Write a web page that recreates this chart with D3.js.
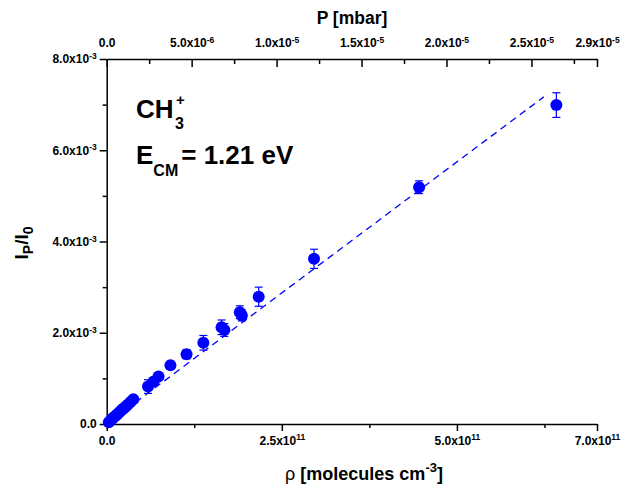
<!DOCTYPE html>
<html>
<head>
<meta charset="utf-8">
<script src="https://cdn.jsdelivr.net/npm/d3@7/dist/d3.min.js"></script>
<style>
  html, body { margin: 0; padding: 0; background: #fff; }
  svg { display: block; font-family: "Liberation Sans", Arial, sans-serif; }
</style>
</head>
<body>
<svg id="chart" width="623" height="490"></svg>
<script>
// Number density of the neutral gas (molecules cm^-3)
const rhoValues = [3e9, 6e9, 9e9, 12e9, 15e9, 18e9, 21e9, 24e9, 27e9, 30e9, 34e9, 38e9,
                   59e9, 67e9, 74e9, 91e9, 114e9, 138e9, 164e9, 168e9, 190e9, 193e9,
                   217e9, 296e9, 446e9, 642e9];
// Product-to-parent ion ratio I_P/I_0
const ratioValues = [0.04e-3, 0.08e-3, 0.13e-3, 0.17e-3, 0.21e-3, 0.26e-3, 0.30e-3, 0.34e-3,
                     0.38e-3, 0.42e-3, 0.48e-3, 0.54e-3, 0.82e-3, 0.93e-3, 1.04e-3, 1.29e-3,
                     1.53e-3, 1.78e-3, 2.12e-3, 2.06e-3, 2.45e-3, 2.38e-3, 2.79e-3, 3.62e-3,
                     5.19e-3, 6.99e-3];
const ratioErrors = [0.02e-3, 0.02e-3, 0.03e-3, 0.03e-3, 0.03e-3, 0.04e-3, 0.04e-3, 0.04e-3,
                     0.05e-3, 0.05e-3, 0.05e-3, 0.05e-3, 0.15e-3, 0.06e-3, 0.07e-3, 0.08e-3,
                     0.10e-3, 0.16e-3, 0.16e-3, 0.14e-3, 0.14e-3, 0.12e-3, 0.21e-3, 0.21e-3,
                     0.14e-3, 0.27e-3];
// Linear fit through the origin
const fitRho = [0, 6.24e11];
const fitRatio = [0, 7.17e-3];

// Axis ticks
const xTicks = [0, 2.5e11, 5.0e11, 7.0e11];
const xMinorTicks = [1.25e11, 3.75e11, 6.25e11];
const yTicks = [0, 2e-3, 4e-3, 6e-3, 8e-3];
const yMinorTicks = [1e-3, 3e-3, 5e-3, 7e-3];
const pTicks = [0, 5e-6, 1.0e-5, 1.5e-5, 2.0e-5, 2.5e-5, 2.886e-5];
const pMinorTicks = [2.5e-6, 7.5e-6, 1.25e-5, 1.75e-5, 2.25e-5, 2.75e-5];

const svg = d3.select("#chart");
const plotL = 106.7, plotR = 597, plotT = 59, plotB = 424;

const x = d3.scaleLinear().domain([0, 7e11]).range([plotL, plotR]);
const xTop = d3.scaleLinear().domain([0, 2.886e-5]).range([plotL, plotR]);
const y = d3.scaleLinear().domain([0, 8e-3]).range([plotB, plotT]);

const BLUE = "#0000ff";

// scientific label "m.mx10^e" written with tspans
function sciLabel(textSel, v) {
  textSel.text(null);
  if (v === 0) { textSel.append("tspan").text("0.0"); return; }
  const e = Math.floor(Math.log10(Math.abs(v)) + 1e-9);
  const m = v / Math.pow(10, e);
  textSel.append("tspan").text(m.toFixed(1) + "x10");
  textSel.append("tspan").attr("dy", "-0.5em").attr("font-size", "8.5px").text(e);
}

function styleAxis(g) {
  g.attr("font-size", null).attr("font-family", null);
  g.select(".domain").attr("stroke", "#000").attr("stroke-width", 1.5);
  g.selectAll(".tick line").attr("stroke", "#000").attr("stroke-width", 1.5);
  g.selectAll(".tick text").attr("font-size", "12px").attr("font-weight", "bold")
    .attr("fill", "#000");
}

function minorStyle(g) {
  g.select(".domain").remove();
  g.selectAll(".tick line").attr("stroke", "#000").attr("stroke-width", 1.5);
}

// Bottom axis
const gx = svg.append("g").attr("transform", `translate(0,${plotB})`)
  .call(d3.axisBottom(x).tickValues(xTicks).tickSizeInner(7).tickSizeOuter(0).tickPadding(5));
styleAxis(gx);
gx.selectAll(".tick text").each(function(d) { sciLabel(d3.select(this), d); });
svg.append("g").attr("transform", `translate(0,${plotB})`)
  .call(d3.axisBottom(x).tickValues(xMinorTicks).tickSizeInner(4).tickSizeOuter(0).tickFormat(""))
  .call(minorStyle);

// Left axis
const gy = svg.append("g").attr("transform", `translate(${plotL},0)`)
  .call(d3.axisLeft(y).tickValues(yTicks).tickSizeInner(7).tickSizeOuter(0).tickPadding(3));
styleAxis(gy);
gy.selectAll(".tick text").each(function(d) { sciLabel(d3.select(this), d); });
svg.append("g").attr("transform", `translate(${plotL},0)`)
  .call(d3.axisLeft(y).tickValues(yMinorTicks).tickSizeInner(4).tickSizeOuter(0).tickFormat(""))
  .call(minorStyle);

// Top pressure axis, ticks pointing into the plot
const gt = svg.append("g").attr("transform", `translate(0,${plotT})`)
  .call(d3.axisTop(xTop).tickValues(pTicks).tickSizeInner(-8).tickSizeOuter(0).tickPadding(12));
styleAxis(gt);
gt.selectAll(".tick text").each(function(d) { sciLabel(d3.select(this), d); });
svg.append("g").attr("transform", `translate(0,${plotT})`)
  .call(d3.axisTop(xTop).tickValues(pMinorTicks).tickSizeInner(-5).tickSizeOuter(0).tickFormat(""))
  .call(minorStyle);

// Fit line
svg.append("line")
  .attr("x1", x(fitRho[0])).attr("y1", y(fitRatio[0]))
  .attr("x2", x(fitRho[1])).attr("y2", y(fitRatio[1]))
  .attr("stroke", BLUE).attr("stroke-width", 1.3).attr("stroke-dasharray", "7,5");

// Data points with error bars
const pts = rhoValues.map((r, i) => ({ r, v: ratioValues[i], e: ratioErrors[i] }));
const pg = svg.append("g").selectAll("g").data(pts).join("g");
pg.append("line")
  .attr("x1", d => x(d.r)).attr("x2", d => x(d.r))
  .attr("y1", d => y(d.v - d.e)).attr("y2", d => y(d.v + d.e))
  .attr("stroke", BLUE).attr("stroke-width", 1.2);
pg.append("line")
  .attr("x1", d => x(d.r) - 4).attr("x2", d => x(d.r) + 4)
  .attr("y1", d => y(d.v + d.e)).attr("y2", d => y(d.v + d.e))
  .attr("stroke", BLUE).attr("stroke-width", 1.2);
pg.append("line")
  .attr("x1", d => x(d.r) - 4).attr("x2", d => x(d.r) + 4)
  .attr("y1", d => y(d.v - d.e)).attr("y2", d => y(d.v - d.e))
  .attr("stroke", BLUE).attr("stroke-width", 1.2);
pg.append("circle")
  .attr("cx", d => x(d.r)).attr("cy", d => y(d.v)).attr("r", 6)
  .attr("fill", BLUE);

// Axis titles
svg.append("text").attr("x", 352).attr("y", 24).attr("text-anchor", "middle")
  .attr("font-size", "17.5px").attr("font-weight", "bold").text("P [mbar]");

const xt = svg.append("text").attr("x", 364).attr("y", 480).attr("text-anchor", "middle")
  .attr("font-size", "18px").attr("font-weight", "bold");
xt.append("tspan").attr("font-weight", "normal").text("ρ");
xt.append("tspan").text(" [molecules cm");
xt.append("tspan").attr("dy", "-8").attr("font-size", "13px").text("-3");
xt.append("tspan").attr("dy", "8").text("]");

const yt = svg.append("text").attr("transform", "translate(28,243) rotate(-90)")
  .attr("text-anchor", "middle").attr("font-size", "19px").attr("font-weight", "bold");
yt.append("tspan").text("I");
yt.append("tspan").attr("dy", "5").attr("font-size", "14px").text("P");
yt.append("tspan").attr("dy", "-5").text("/I");
yt.append("tspan").attr("dy", "5").attr("font-size", "14px").text("0");

// Annotation
const a1 = svg.append("text").attr("x", 136).attr("y", 118)
  .attr("font-size", "26px").attr("font-weight", "bold");
a1.append("tspan").text("CH");
a1.append("tspan").attr("x", 175).attr("dy", "11").attr("font-size", "16px").text("3");
a1.append("tspan").attr("x", 176).attr("dy", "-24").attr("font-size", "15px").text("+");

const a2 = svg.append("text").attr("x", 136).attr("y", 164)
  .attr("font-size", "26px").attr("font-weight", "bold");
a2.append("tspan").text("E");
a2.append("tspan").attr("dy", "12").attr("font-size", "16px").text("CM");
a2.append("tspan").attr("dy", "-12").attr("dx", "3").text("= 1.21 eV");
</script>
</body>
</html>
